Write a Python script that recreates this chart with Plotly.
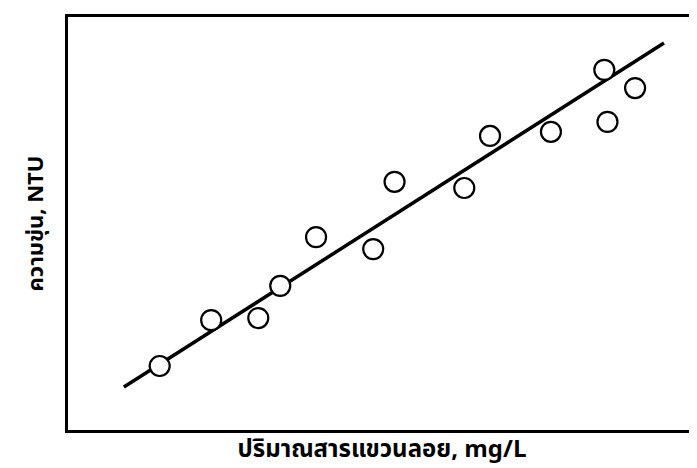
import plotly.graph_objects as go

# Data (arbitrary units)
x_points = [14.6, 22.8, 30.3, 33.8, 39.5, 48.6, 52.0, 63.1, 67.2, 76.9, 85.4, 85.9, 90.3]
y_points = [15.5, 26.6, 27.1, 34.9, 46.7, 43.8, 60.1, 58.6, 71.2, 72.2, 87.2, 74.6, 82.8]
line_x = [8.9, 94.9]
line_y = [10.4, 93.7]

x_title = "ปริมาณสารแขวนลอย, mg/L"
y_title = "ความขุ่น, NTU"

fig = go.Figure()
fig.add_trace(go.Scatter(x=line_x, y=line_y, mode="lines",
                         line=dict(color="black", width=3.5), showlegend=False))
fig.add_trace(go.Scatter(x=x_points, y=y_points, mode="markers",
                         marker=dict(symbol="circle", size=20, color="white",
                                     line=dict(color="black", width=2.2)),
                         showlegend=False))

font_family = "Noto Sans Thai, Loma, Garuda, Tlwg Typo, DejaVu Sans, sans-serif"
fig.update_layout(
    width=697, height=468,
    margin=dict(l=60, r=6, t=9, b=46),
    plot_bgcolor="white", paper_bgcolor="white",
    font=dict(family=font_family, color="black"),
    xaxis=dict(range=[0, 100], showgrid=False, zeroline=False, showticklabels=False,
               ticks="", showline=True, mirror=True, linecolor="black", linewidth=2.5,
               title=dict(text="<b>" + x_title + "</b>", font=dict(size=24, family=font_family),
                          standoff=9)),
    yaxis=dict(range=[0, 100], showgrid=False, zeroline=False, showticklabels=False,
               ticks="", showline=True, mirror=True, linecolor="black", linewidth=2.5,
               title=dict(text="<b>" + y_title + "</b>", font=dict(size=22, family=font_family),
                          standoff=16)),
)
fig.write_html("out.html")
